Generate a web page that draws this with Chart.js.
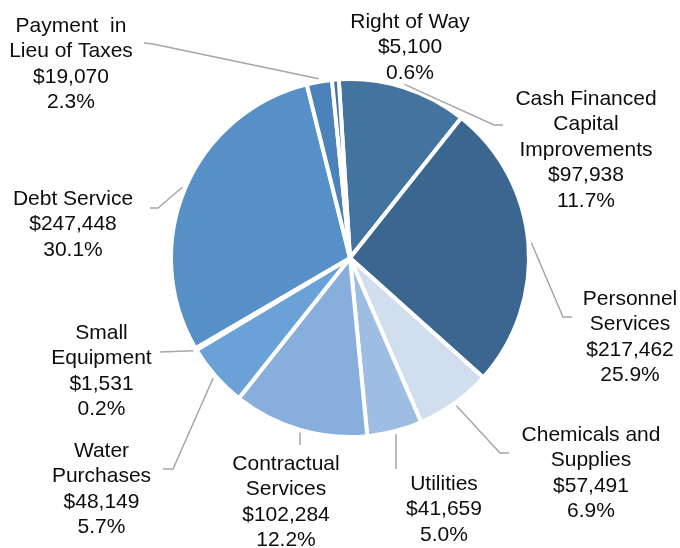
<!DOCTYPE html>
<html>
<head>
<meta charset="utf-8">
<script src="https://cdn.jsdelivr.net/npm/chart.js@4/dist/chart.umd.min.js"></script>
<style>
  html, body { margin: 0; padding: 0; background: #ffffff; }
  #wrap { width: 680px; height: 548px; position: relative; }
</style>
</head>
<body>
<div id="wrap"><canvas id="c" width="680" height="548"></canvas></div>
<script>
// ---- Data (clockwise from the top) ----
const categories = [
  ["Cash Financed", "Capital", "Improvements"],
  ["Personnel", "Services"],
  ["Chemicals and", "Supplies"],
  ["Utilities"],
  ["Contractual", "Services"],
  ["Water", "Purchases"],
  ["Small", "Equipment"],
  ["Debt Service"],
  ["Payment  in", "Lieu of Taxes"],
  ["Right of Way"]
];
const values = [97938, 217462, 57491, 41659, 102284, 48149, 1531, 247448, 19070, 5100];
const percentLabels = ["11.7%", "25.9%", "6.9%", "5.0%", "12.2%", "5.7%", "0.2%", "30.1%", "2.3%", "0.6%"];

// ---- Styling / layout (not data) ----
const colors = ["#43739f", "#3b6690", "#d0deee", "#9ebde2", "#88afdc", "#6aa1d7", "#6699cc", "#5690c7", "#4b82ba", "#3f72a6"];
// label text anchor (center x, first baseline y) and leader-line waypoints after the slice edge
const labelLayout = [
  { x: 586, y: 104.5, path: [[494, 125], [503, 125]] },
  { x: 630, y: 304.5, path: [[563, 317], [572, 317]] },
  { x: 591, y: 440.5, path: [[500, 453], [509, 453]] },
  { x: 444, y: 489.5, path: [[396, 469]], vertical: true },
  { x: 286, y: 469.5, path: [[300, 445]], vertical: true },
  { x: 101.5, y: 456.5, path: [[173, 469], [163, 469]] },
  { x: 101.5, y: 338.5, path: [[160, 352]] },
  { x: 73, y: 204.5, path: [[158, 208], [150, 208]] },
  { x: 71, y: 31.5, path: [[153, 44], [144, 43]] },
  { x: 410, y: 27.5, path: null }
];
const lineGap = 25.6;
const fontSpec = '21px "Liberation Sans", Arial, sans-serif';

const leaderPlugin = {
  id: 'leaders',
  afterDraw(chart) {
    const ctx = chart.ctx;
    const meta = chart.getDatasetMeta(0);
    ctx.save();
    meta.data.forEach((arc, i) => {
      const p = arc.getProps(['x', 'y', 'startAngle', 'endAngle', 'outerRadius'], true);
      const mid = (p.startAngle + p.endAngle) / 2;
      const lay = labelLayout[i];
      if (lay.path) {
        let sx = p.x + Math.cos(mid) * (p.outerRadius + 3);
        let sy = p.y + Math.sin(mid) * (p.outerRadius + 3);
        if (lay.vertical) sx = lay.path[0][0];
        ctx.beginPath();
        ctx.strokeStyle = '#a6a6a6';
        ctx.lineWidth = 1.5;
        ctx.moveTo(sx, sy);
        lay.path.forEach(pt => ctx.lineTo(pt[0], pt[1]));
        ctx.stroke();
      }
      const lines = categories[i].concat([
        '$' + values[i].toLocaleString('en-US'),
        percentLabels[i]
      ]);
      ctx.fillStyle = '#0d0d0d';
      ctx.font = fontSpec;
      ctx.textAlign = 'center';
      ctx.textBaseline = 'alphabetic';
      lines.forEach((t, k) => ctx.fillText(t, lay.x, lay.y + k * lineGap));
    });
    ctx.restore();
  }
};

new Chart(document.getElementById('c'), {
  type: 'pie',
  data: {
    labels: categories.map(c => c.join(' ')),
    datasets: [{
      data: values,
      backgroundColor: colors,
      borderColor: '#ffffff',
      borderWidth: 4
    }]
  },
  options: {
    responsive: false,
    maintainAspectRatio: false,
    animation: false,
    rotation: -3.6,
    layout: { padding: { left: 169, right: 149, top: 77, bottom: 109 } },
    plugins: {
      legend: { display: false },
      tooltip: { enabled: false },
      title: { display: false }
    }
  },
  plugins: [leaderPlugin]
});
</script>
</body>
</html>
